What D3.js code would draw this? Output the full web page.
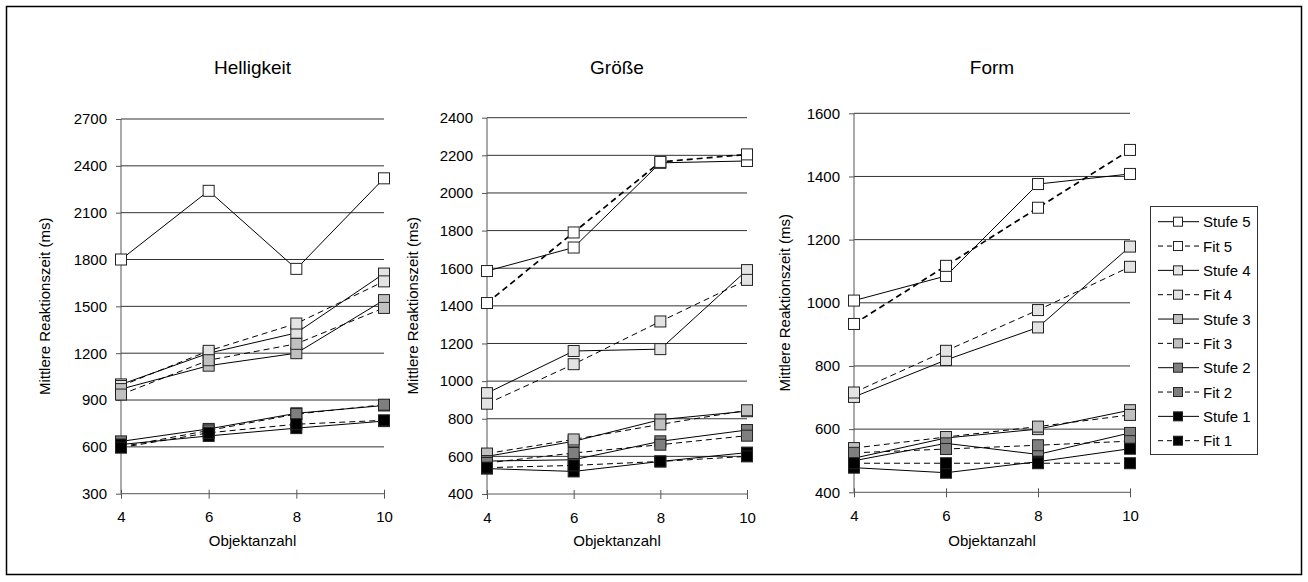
<!DOCTYPE html>
<html>
<head>
<meta charset="utf-8">
<script src="https://cdn.jsdelivr.net/npm/d3@7/dist/d3.min.js"></script>
<style>
  html, body { margin: 0; padding: 0; background: #fff; }
  svg text { font-family: "Liberation Sans", Arial, sans-serif; fill: #000; }
</style>
</head>
<body>
<svg id="chart" width="1308" height="582"></svg>
<script>
// ---------- DATA ----------
const objektanzahl = [4, 6, 8, 10];
const seriesNames = ["Stufe 5", "Fit 5", "Stufe 4", "Fit 4", "Stufe 3", "Fit 3", "Stufe 2", "Fit 2", "Stufe 1", "Fit 1"];
const seriesFill = ["#ffffff", "#ffffff", "#e3e3e3", "#e3e3e3", "#c0c0c0", "#c0c0c0", "#7f7f7f", "#7f7f7f", "#000000", "#000000"];
const seriesDashed = [false, true, false, true, false, true, false, true, false, true];
const seriesWidth = [1, 1.7, 1, 1, 1, 1, 1, 1, 1, 1];

const panelTitles = ["Helligkeit", "Größe", "Form"];
const yAxisTitle = "Mittlere Reaktionszeit (ms)";
const xAxisTitle = "Objektanzahl";

const helligkeitTicks = [300, 600, 900, 1200, 1500, 1800, 2100, 2400, 2700];
const groesseTicks = [400, 600, 800, 1000, 1200, 1400, 1600, 1800, 2000, 2200, 2400];
const formTicks = [400, 600, 800, 1000, 1200, 1400, 1600];

// values in the order of seriesNames (null = series not shown)
const helligkeitValues = [
  [1800, 2240, 1740, 2320],   // Stufe 5
  null,                       // Fit 5
  [1000, 1200, 1330, 1710],   // Stufe 4
  [990, 1215, 1390, 1660],    // Fit 4
  [970, 1120, 1200, 1540],    // Stufe 3
  [935, 1155, 1260, 1490],    // Fit 3
  [635, 715, 815, 865],       // Stufe 2
  [600, 705, 810, 870],       // Fit 2
  [615, 670, 720, 765],       // Stufe 1
  [595, 690, 745, 770]        // Fit 1
];
const groesseValues = [
  [1585, 1710, 2160, 2170],   // Stufe 5
  [1415, 1790, 2165, 2205],   // Fit 5
  [936, 1160, 1170, 1590],    // Stufe 4
  [880, 1090, 1317, 1538],    // Fit 4
  [600, 680, 795, 840],       // Stufe 3
  [615, 690, 770, 845],       // Fit 3
  [575, 582, 680, 740],       // Stufe 2
  [565, 618, 662, 710],       // Fit 2
  [535, 520, 573, 620],       // Stufe 1
  [540, 552, 573, 600]        // Fit 1
];
const formValues = [
  [1007, 1085, 1376, 1408],   // Stufe 5
  [933, 1117, 1301, 1484],    // Fit 5
  [702, 819, 922, 1178],      // Stufe 4
  [716, 848, 977, 1114],      // Fit 4
  [508, 572, 600, 660],       // Stufe 3
  [540, 575, 608, 645],       // Fit 3
  [500, 555, 520, 588],       // Stufe 2
  [525, 537, 549, 562],       // Fit 2
  [478, 462, 497, 538],       // Stufe 1
  [492, 492, 492, 492]        // Fit 1
];

// ---------- LAYOUT ----------
const panels = [
  { title: panelTitles[0], ticks: helligkeitTicks, values: helligkeitValues,
    x0: 121, x1: 384, yTop: 119, yBot: 493.7, yTitleX: 44 },
  { title: panelTitles[1], ticks: groesseTicks, values: groesseValues,
    x0: 487, x1: 747, yTop: 117.7, yBot: 494, yTitleX: 412 },
  { title: panelTitles[2], ticks: formTicks, values: formValues,
    x0: 854, x1: 1130, yTop: 113.3, yBot: 492.3, yTitleX: 784 }
];

const svg = d3.select("#chart");

// outer frame
svg.append("rect")
  .attr("x", 6.5).attr("y", 6.5)
  .attr("width", 1295).attr("height", 568)
  .attr("fill", "none").attr("stroke", "#000").attr("stroke-width", 1.5);

const markerSize = 11;

panels.forEach(p => {
  const g = svg.append("g");
  const x = d3.scalePoint().domain(objektanzahl).range([p.x0, p.x1]);
  const y = d3.scaleLinear().domain([d3.min(p.ticks), d3.max(p.ticks)]).range([p.yBot, p.yTop]);

  // gridlines
  g.append("g").selectAll("line")
    .data(p.ticks.slice(1))
    .join("line")
    .attr("x1", p.x0).attr("x2", p.x1)
    .attr("y1", d => y(d)).attr("y2", d => y(d))
    .attr("stroke", "#333").attr("stroke-width", 1);

  // y axis
  const ya = g.append("g")
    .attr("transform", `translate(${p.x0},0)`)
    .call(d3.axisLeft(y).tickValues(p.ticks).tickSize(5).tickPadding(9).tickFormat(d3.format("d")));
  ya.select(".domain").attr("stroke", "#555").attr("d", `M0,${p.yBot}V${p.yTop}`);
  ya.selectAll(".tick line").attr("stroke", "#555");
  ya.selectAll("text").attr("font-size", 15).attr("font-family", "Liberation Sans, Arial, sans-serif");

  // x axis
  const xa = g.append("g")
    .attr("transform", `translate(0,${p.yBot})`)
    .call(d3.axisBottom(x).tickSize(5).tickPadding(13));
  xa.select(".domain").attr("stroke", "#555").attr("d", `M${p.x0},0H${p.x1}`);
  xa.selectAll(".tick line").attr("stroke", "#555").attr("y1", -4).attr("y2", 5);
  xa.selectAll("text").attr("font-size", 15).attr("font-family", "Liberation Sans, Arial, sans-serif");

  // titles
  const cx = (p.x0 + p.x1) / 2;
  g.append("text").attr("x", cx).attr("y", 74)
    .attr("text-anchor", "middle").attr("font-size", 19).text(p.title);
  g.append("text").attr("x", cx).attr("y", 546)
    .attr("text-anchor", "middle").attr("font-size", 15).text(xAxisTitle);
  g.append("text")
    .attr("transform", `translate(${p.yTitleX},${(p.yTop + p.yBot) / 2}) rotate(-90)`)
    .attr("text-anchor", "middle").attr("dominant-baseline", "central")
    .attr("font-size", 15).text(yAxisTitle);

  // series
  const line = d3.line().x((d, i) => x(objektanzahl[i])).y(d => y(d));
  p.values.forEach((vals, si) => {
    if (!vals) return;
    const sg = g.append("g");
    sg.append("path")
      .attr("d", line(vals))
      .attr("fill", "none")
      .attr("stroke", "#000")
      .attr("stroke-width", seriesWidth[si])
      .attr("stroke-dasharray", seriesDashed[si] ? "6,4" : null);
    sg.selectAll("rect")
      .data(vals)
      .join("rect")
      .attr("x", (d, i) => x(objektanzahl[i]) - markerSize / 2)
      .attr("y", d => y(d) - markerSize / 2)
      .attr("width", markerSize).attr("height", markerSize)
      .attr("fill", seriesFill[si])
      .attr("stroke", "#222").attr("stroke-width", 1);
  });
});

// ---------- LEGEND ----------
const lg = svg.append("g");
const lx0 = 1150, ly0 = 206, lw = 107, lh = 248;
lg.append("rect").attr("x", lx0 + 0.5).attr("y", ly0 + 0.5).attr("width", lw).attr("height", lh)
  .attr("fill", "#fff").attr("stroke", "#333").attr("stroke-width", 1);
const legendY = d3.scalePoint().domain(seriesNames).range([221.7, 440.7]);
seriesNames.forEach((name, si) => {
  const yy = legendY(name);
  lg.append("line").attr("x1", 1158).attr("x2", 1199).attr("y1", yy).attr("y2", yy)
    .attr("stroke", "#000").attr("stroke-width", 1)
    .attr("stroke-dasharray", seriesDashed[si] ? "5,4" : null);
  lg.append("rect").attr("x", 1178 - 4.5).attr("y", yy - 4.5).attr("width", 9).attr("height", 9)
    .attr("fill", seriesFill[si]).attr("stroke", "#222").attr("stroke-width", 1);
  lg.append("text").attr("x", 1203).attr("y", yy).attr("dominant-baseline", "central")
    .attr("font-size", 15).text(name);
});
</script>
</body>
</html>
